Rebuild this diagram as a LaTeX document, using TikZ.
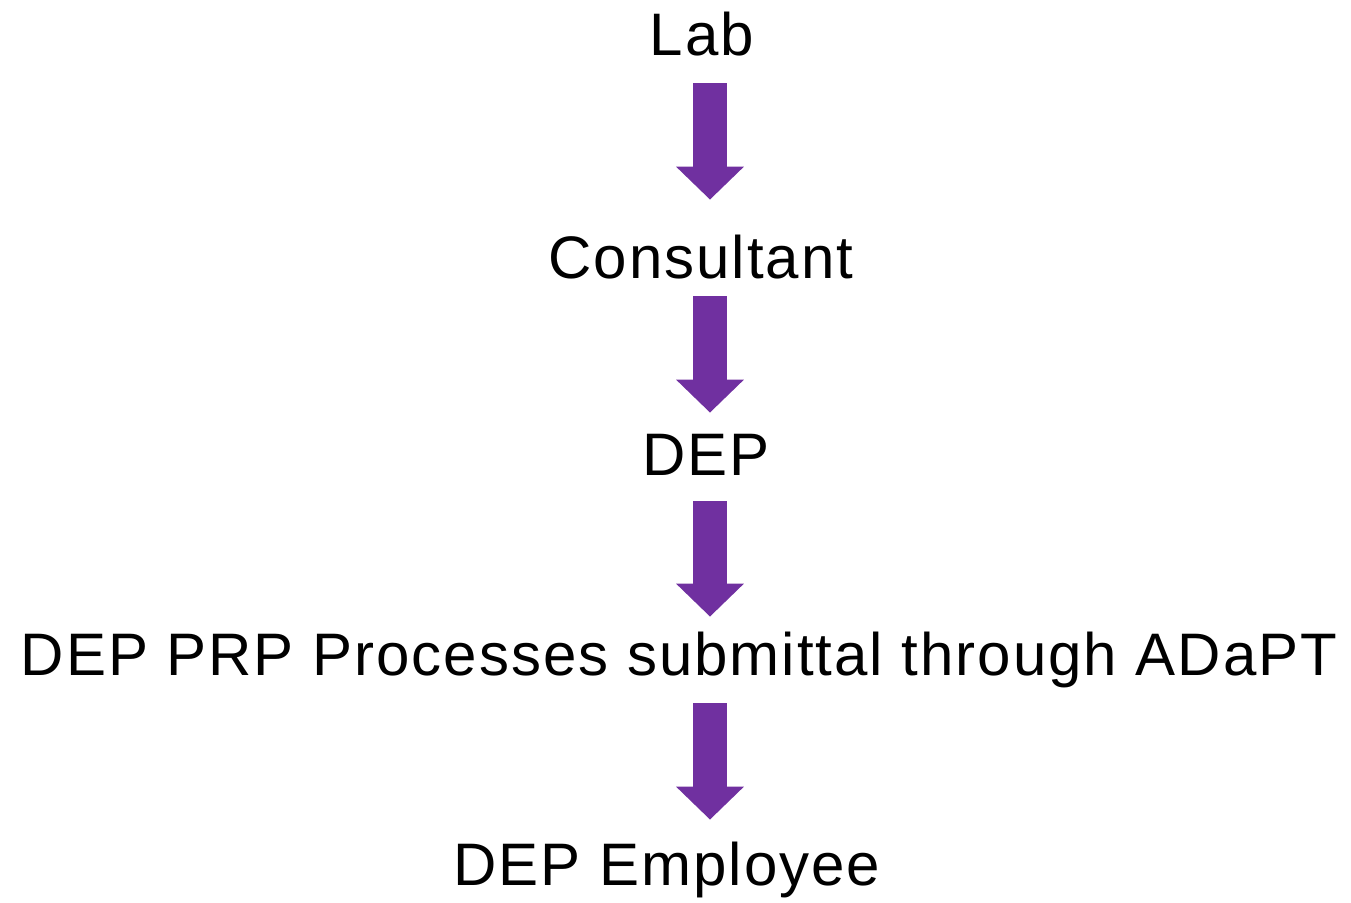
\documentclass[tikz,border=0pt]{standalone}
\usepackage{fontspec}
\setmainfont{Liberation Sans}[LetterSpace=3.3]
\usetikzlibrary{arrows.meta,positioning}
\definecolor{flowpurple}{RGB}{112,48,160}

\begin{document}
\begin{tikzpicture}[x=0.5pt, y=-0.5pt,
    lbl/.style={inner sep=0pt, anchor=base, text height=21pt, text depth=0pt,
                font=\fontsize{30pt}{36pt}\selectfont},
    blockarr/.style={-{Triangle[length=16.5pt, width=33pt]}, line width=17pt, flowpurple}
]
    \useasboundingbox (0,0) rectangle (1351,902);
    \coordinate (ax) at (710,0);

    \node[lbl] (lab)  at (702, 55)  {Lab};
    \node[lbl] (cons) at (701, 278) {Consultant};
    \node[lbl] (dep)  at (706, 475) {DEP};
    \node[lbl] (prp)  at (679, 675) {DEP PRP Processes submittal through ADaPT};
    \node[lbl] (emp)  at (667, 885) {DEP Employee};

    \draw[blockarr, shorten <=14pt, shorten >=18pt]   (ax |- lab.south)  -- (ax |- cons.north);
    \draw[blockarr, shorten <=9pt,  shorten >=10pt]   (ax |- cons.south) -- (ax |- dep.north);
    \draw[blockarr, shorten <=13pt, shorten >=8pt]    (ax |- dep.south)  -- (ax |- prp.north);
    \draw[blockarr, shorten <=14pt, shorten >=11.5pt] (ax |- prp.south)  -- (ax |- emp.north);
\end{tikzpicture}
\end{document}
